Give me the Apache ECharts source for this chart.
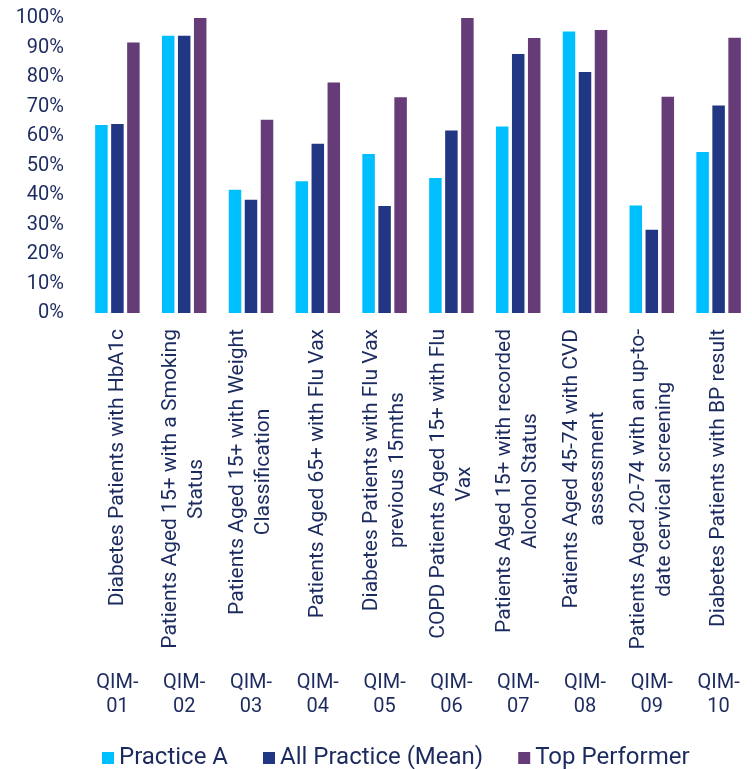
<!DOCTYPE html>
<html>
<head>
<meta charset="utf-8">
<title>QIM Indicators</title>
<script src="https://cdn.jsdelivr.net/npm/echarts@6/dist/echarts.min.js"></script>
<style>
  html, body { margin: 0; padding: 0; background: #ffffff; }
  #chart { width: 752px; height: 769px; }
</style>
</head>
<body>
<div id="chart"></div>
<script>
// Quality improvement measures: codes and their descriptions
var codes = ['QIM-01', 'QIM-02', 'QIM-03', 'QIM-04', 'QIM-05',
             'QIM-06', 'QIM-07', 'QIM-08', 'QIM-09', 'QIM-10'];
var descriptions = [
  'Diabetes Patients with HbA1c',
  'Patients Aged 15+ with a Smoking\nStatus',
  'Patients Aged 15+ with Weight\nClassification',
  'Patients Aged 65+ with Flu Vax',
  'Diabetes Patients with Flu Vax\nprevious 15mths',
  'COPD Patients Aged 15+ with Flu\nVax',
  'Patients Aged 15+ with recorded\nAlcohol Status',
  'Patients Aged 45-74 with CVD\nassessment',
  'Patients Aged 20-74 with an up-to-\ndate cervical screening',
  'Diabetes Patients with BP result'
];

// Series values (percent)
var practiceA    = [63.7, 94.0, 41.8, 44.7, 53.9, 45.8, 63.2, 95.4, 36.4, 54.6];
var allPractice  = [64.1, 94.0, 38.4, 57.4, 36.3, 61.9, 87.8, 81.7, 28.2, 70.3];
var topPerformer = [91.7, 100, 65.5, 78.1, 73.1, 100, 93.2, 95.9, 73.3, 93.3];

var seriesNames = ['Practice A', 'All Practice (Mean)', 'Top Performer'];
var seriesColors = ['#00bfff', '#213783', '#653c77'];

var textColor = '#1c2b5f';
var fontFamily = 'Roboto, "Noto Sans", sans-serif';

var chart = echarts.init(document.getElementById('chart'));

var seriesData = [practiceA, allPractice, topPerformer];

chart.setOption({
  backgroundColor: '#ffffff',
  animation: false,
  textStyle: { fontFamily: fontFamily, color: textColor },
  color: seriesColors,
  grid: { left: 84, top: 18, width: 671, height: 295, containLabel: false },
  legend: {
    left: 97,
    top: 741,
    icon: 'rect',
    itemWidth: 12,
    itemHeight: 12,
    itemGap: 35,
    textStyle: {
      fontSize: 24,
      color: textColor,
      fontFamily: fontFamily
    },
    data: seriesNames
  },
  xAxis: [
    {
      type: 'category',
      data: descriptions,
      axisLine: { show: false },
      axisTick: { show: false },
      axisLabel: {
        interval: 0,
        rotate: 90,
        margin: 16,
        color: textColor,
        fontSize: 21,
        fontFamily: fontFamily,
        formatter: function (value) {
          return value.split('\n').map(function (line) {
            return '{c|' + line + '}';
          }).join('\n');
        },
        rich: {
          c: {
            align: 'center',
            fontSize: 21,
            lineHeight: 26,
            color: textColor,
            fontFamily: fontFamily
          }
        }
      }
    },
    {
      type: 'category',
      data: codes,
      position: 'bottom',
      axisLine: { show: false },
      axisTick: { show: false },
      axisLabel: {
        interval: 0,
        margin: 358,
        color: textColor,
        fontSize: 20,
        lineHeight: 24,
        fontFamily: fontFamily,
        formatter: function (value) {
          return value.replace('-', '-\n');
        }
      }
    }
  ],
  yAxis: {
    type: 'value',
    min: 0,
    max: 100,
    interval: 10,
    axisLine: { show: false },
    axisTick: { show: false },
    splitLine: { show: false },
    axisLabel: {
      margin: 20,
      color: textColor,
      fontSize: 20,
      fontFamily: fontFamily,
      formatter: '{value}%'
    }
  },
  series: seriesNames.map(function (name, i) {
    return {
      name: name,
      type: 'bar',
      xAxisIndex: 0,
      data: seriesData[i],
      barWidth: 12.5,
      barGap: '28%',
      itemStyle: { color: seriesColors[i] }
    };
  })
});
</script>
</body>
</html>
